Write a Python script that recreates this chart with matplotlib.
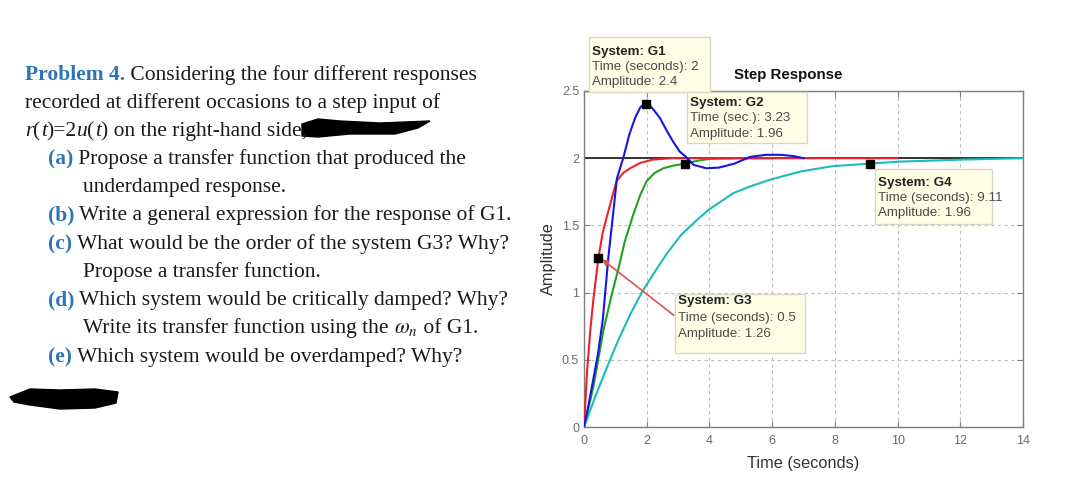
import matplotlib
matplotlib.use("Agg")
import matplotlib.pyplot as plt
from matplotlib.patches import Rectangle, Polygon

plt.rcParams["mathtext.fontset"] = "stix"

# step responses
g1_t = [0, 0.15, 0.3, 0.45, 0.6, 0.78, 0.94, 1.05, 1.25, 1.45, 1.63, 1.8, 1.97, 2.15, 2.42, 2.65,
        2.85, 3.05, 3.25, 3.5, 3.9, 4.3, 4.8, 5.3, 5.8, 6.3, 6.7, 7.0]
g1_y = [0, 0.17, 0.36, 0.55, 0.8, 1.27, 1.61, 1.85, 2.0, 2.18, 2.3, 2.38, 2.41, 2.38, 2.3, 2.2,
        2.12, 2.05, 2.01, 1.95, 1.925, 1.93, 1.96, 2.01, 2.025, 2.025, 2.015, 2.0]

g2_t = [0, 0.3, 0.62, 0.9, 1.1, 1.3, 1.57, 1.8, 2.0, 2.25, 2.53, 2.85, 3.23, 3.6, 4.0, 5.0, 6.0]
g2_y = [0, 0.3, 0.72, 1.0, 1.18, 1.38, 1.58, 1.73, 1.83, 1.89, 1.925, 1.945, 1.96, 1.98, 1.995, 2.0, 2.0]

g3_t = [0, 0.1, 0.2, 0.3, 0.46, 0.6, 0.78, 1.04, 1.25, 1.47, 1.8, 2.2, 2.8, 3.5, 5.0, 10.0]
g3_y = [0, 0.42, 0.72, 0.95, 1.26, 1.45, 1.61, 1.83, 1.89, 1.925, 1.965, 1.99, 2.0, 2.0, 2.0, 2.0]

g4_t = [0, 0.4, 0.83, 1.1, 1.5, 1.89, 2.3, 2.64, 3.1, 3.6, 4.0, 4.76, 5.3, 5.93, 6.89, 7.9,
        9.11, 10.1, 10.8, 12.1, 14.0]
g4_y = [0, 0.25, 0.5, 0.65, 0.85, 1.02, 1.17, 1.29, 1.43, 1.54, 1.62, 1.74, 1.79, 1.84, 1.9, 1.94,
        1.96, 1.975, 1.98, 1.99, 2.0]

final_value = 2.0
x_ticks = [0, 2, 4, 6, 8, 10, 12, 14]
y_ticks = [0, 0.5, 1, 1.5, 2, 2.5]

# data tips: system, x label, time, amplitude
tip_sys = ["G1", "G2", "G4", "G3"]
tip_xname = ["Time (seconds)", "Time (sec.)", "Time (seconds)", "Time (seconds)"]
tip_time = ["2", "3.23", "9.11", "0.5"]
tip_amp = ["2.4", "1.96", "1.96", "1.26"]
tip_x = [1.97, 3.23, 9.11, 0.46]
tip_y = [2.4, 1.96, 1.96, 1.26]

W, H = 1077, 494
fig = plt.figure(figsize=(W / 100, H / 100), dpi=100)
fig.patch.set_facecolor("white")

# ---------------- left-hand problem text ----------------
renderer = fig.canvas.get_renderer()
serif = "Liberation Serif"
blue_txt = "#2e75b6"
fs = 15.5


def put_runs(x_px, base_px, parts):
    x = x_px
    for s, kw in parts:
        t = fig.text(x / W, 1 - base_px / H, s, fontsize=fs, family=serif, va="baseline",
                     ha="left", **kw)
        x += t.get_window_extent(renderer).width


dark = {"color": "#1a1a1a"}
bold_blue = {"color": blue_txt, "weight": "bold"}
ital = {"color": "#1a1a1a", "style": "italic"}

put_runs(25, 80, [("Problem 4.", bold_blue), (" Considering the four different responses", dark)])
put_runs(25, 108, [("recorded at different occasions to a step input of", dark)])
put_runs(25, 136, [("r", ital), ("(", dark), ("t", ital), (")=2", dark), ("u", ital), ("(", dark),
                   ("t", ital), (") on the right-hand side,", dark)])
put_runs(48, 164, [("(a)", bold_blue), (" Propose a transfer function that produced the", dark)])
put_runs(83, 192, [("underdamped response.", dark)])
put_runs(48, 220, [("(b)", bold_blue), (" Write a general expression for the response of G1.", dark)])
put_runs(48, 249, [("(c)", bold_blue), (" What would be the order of the system G3? Why?", dark)])
put_runs(83, 277, [("Propose a transfer function.", dark)])
put_runs(48, 305, [("(d)", bold_blue), (" Which system would be critically damped? Why?", dark)])
put_runs(83, 333, [("Write its transfer function using the ", dark), (r"$\omega_n$", dark), (" of G1.", dark)])
put_runs(48, 362, [("(e)", bold_blue), (" Which system would be overdamped? Why?", dark)])

# redaction blobs
def px_poly(pts):
    return Polygon([(x / W, 1 - y / H) for x, y in pts], closed=True, transform=fig.transFigure,
                   facecolor="black", edgecolor="black")


fig.patches.append(px_poly([(302, 124), (318, 119), (340, 121), (380, 123), (430, 121), (418, 128),
                            (395, 134), (350, 134), (318, 137), (302, 136)]))
fig.patches.append(px_poly([(10, 397), (30, 389), (60, 390), (95, 389), (118, 392), (116, 403),
                            (95, 408), (60, 409), (30, 405), (14, 402)]))

# ---------------- step response axes ----------------
ax = fig.add_axes([584 / W, 1 - 427 / H, (1023 - 584) / W, (427 - 91) / H])
grey = "#7f7f7f"
ax.set_xlim(0, 14)
ax.set_ylim(0, 2.5)
ax.set_xticks(x_ticks)
ax.set_yticks(y_ticks)
ax.set_xticklabels([str(v) for v in x_ticks])
ax.set_yticklabels(["0", "0.5", "1", "1.5", "2", "2.5"])
ax.tick_params(direction="in", length=4, color=grey, labelcolor="#6a6a6a", labelsize=9,
               top=True, right=True)
ax.tick_params(axis="x", pad=6)
for lab in ax.get_xticklabels() + ax.get_yticklabels():
    lab.set_family("Liberation Sans")
for sp in ax.spines.values():
    sp.set_color(grey)
    sp.set_linewidth(1.0)
ax.grid(True, linestyle=(0, (3, 3)), color="#bdbdbd", linewidth=0.8)

ax.axhline(final_value, color="#222222", linewidth=1.3, zorder=2)
ax.plot(g4_t, g4_y, color="#19bcc0", linewidth=1.5, zorder=3)
ax.plot(g2_t, g2_y, color="#22a122", linewidth=1.5, zorder=3)
ax.plot(g3_t, g3_y, color="#e8232a", linewidth=1.5, zorder=3)
ax.plot(g1_t, g1_y, color="#1616e0", linewidth=1.5, zorder=4)

ax.plot(tip_x, tip_y, linestyle="none", marker="s", markersize=6, color="black", zorder=6,
        clip_on=False)

ax.set_xlabel("Time (seconds)", family="Liberation Sans", fontsize=11.8, color="#333333", labelpad=6)
ax.set_ylabel("Amplitude", family="Liberation Sans", fontsize=11.8, color="#333333", labelpad=4)
fig.text(788 / W, 1 - 75 / H, "Step Response", family="Liberation Sans", fontsize=10.8,
         weight="bold", ha="center", va="center", color="#111111")

# data-tip boxes (pixel layout)
boxes = [(589, 37, 710, 92, [52, 67, 82]),
         (687, 92, 807, 143, [103, 118, 134]),
         (875, 169, 992, 224, [183, 198, 213]),
         (675, 294, 805, 353, [301, 318, 334])]


def to_data(px, py):
    return (px - 584) / (1023 - 584) * 14, (427 - py) / (427 - 91) * 2.5


for i, (x0, y0, x1, y1, lines) in enumerate(boxes):
    dx0, dy0 = to_data(x0, y1)
    dx1, dy1 = to_data(x1, y0)
    ax.add_patch(Rectangle((dx0, dy0), dx1 - dx0, dy1 - dy0, facecolor="#ffffe6",
                           edgecolor="#d8d8c8", linewidth=1.0, zorder=7, clip_on=False))
    tx, _ = to_data(x0 + 3, 0)
    rows = ["System: " + tip_sys[i], tip_xname[i] + ": " + tip_time[i], "Amplitude: " + tip_amp[i]]
    for j, (row, ly) in enumerate(zip(rows, lines)):
        _, ty = to_data(0, ly)
        ax.text(tx, ty, row, family="Liberation Sans", fontsize=9.6, va="center", ha="left",
                weight="bold" if j == 0 else "normal", color="#222222" if j == 0 else "#4a4a4a",
                zorder=8, clip_on=False)

# red pointer from G3 tip box to its point
ax_, ay_ = to_data(676, 317)
ax.annotate("", xy=(tip_x[3] + 0.05, tip_y[3]), xytext=(ax_, ay_),
            arrowprops=dict(arrowstyle="-|>", color="#e05050", lw=1.2, mutation_scale=9),
            zorder=6)

fig.savefig("out.png", dpi=100)
